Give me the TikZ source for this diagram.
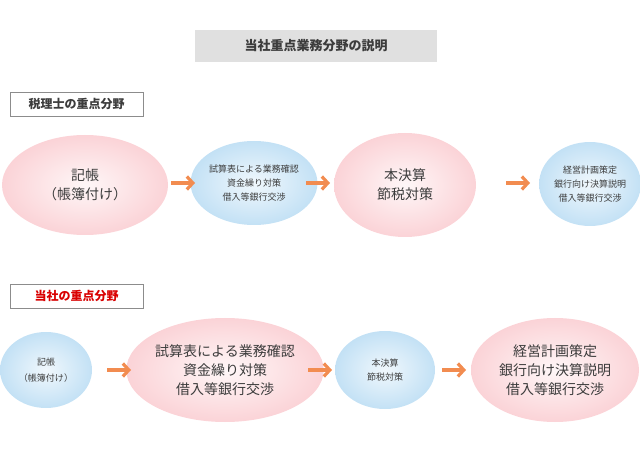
\documentclass[tikz,border=0pt]{standalone}
\usepackage{fontspec}
\setmainfont{Noto Sans CJK JP}
\usetikzlibrary{shapes.geometric,arrows.meta,calc}
\definecolor{pk}{RGB}{250,200,205}
\definecolor{bl}{RGB}{195,225,245}
\definecolor{ar}{RGB}{242,140,80}
\definecolor{tx}{RGB}{60,60,60}
\begin{document}
\begin{tikzpicture}[x=1pt,y=-1pt,
  pinkell/.style={ellipse,inner color=white!85!pk,outer color=pk!80,draw=none,text=tx,align=center,inner sep=0pt},
  blueell/.style={ellipse,inner color=white!75!bl,outer color=bl,draw=none,text=tx,align=center,inner sep=0pt},
  flow/.style={draw=ar,line width=3.2pt,-{Straight Barb[length=6pt,width=13pt]}},
  lbl/.style={draw=black!45,fill=white,minimum width=133pt,minimum height=24pt,inner sep=0pt,font=\bfseries\fontsize{12}{14}\selectfont}]
\useasboundingbox (0,0) rectangle (640,462);
\node[fill=black!12,minimum width=242pt,minimum height=32pt,font=\bfseries\fontsize{13}{15}\selectfont,text=tx] (t) at (316,46) {当社重点業務分野の説明};
\node[lbl,text=tx] (l1) at (76.5,104) {税理士の重点分野};
\node[lbl,text=red!85!black] (l2) at (76.5,296) {当社の重点分野};
% row 1
\node[pinkell,minimum width=166pt,minimum height=100pt,font=\fontsize{14}{19}\selectfont] (a1) at (85,185) {記帳\\（帳簿付け）};
\node[blueell,minimum width=116pt,minimum height=84pt,font=\fontsize{9}{14}\selectfont] (a2) at (254,183) {試算表による業務確認\\資金繰り対策\\借入等銀行交渉};
\node[pinkell,minimum width=142pt,minimum height=104pt,font=\fontsize{14}{19}\selectfont] (a3) at (405,185) {本決算\\節税対策};
\node[blueell,minimum width=100pt,minimum height=84pt,font=\fontsize{9}{14}\selectfont] (a4) at (590,184) {経営計画策定\\銀行向け決算説明\\借入等銀行交渉};
\coordinate (m1) at (183,183);
\coordinate (m2) at (318,183);
\coordinate (m3) at (518,183);
\draw[flow] ([xshift=-12pt]m1) -- ([xshift=12pt]m1);
\draw[flow] ([xshift=-12pt]m2) -- ([xshift=12pt]m2);
\draw[flow] ([xshift=-12pt]m3) -- ([xshift=12pt]m3);
% row 2
\node[blueell,minimum width=92pt,minimum height=76pt,font=\fontsize{9}{16}\selectfont] (b1) at (46,370) {記帳\\（帳簿付け）};
\node[pinkell,minimum width=164pt,minimum height=104pt,font=\fontsize{14}{19}\selectfont] (b2) at (225,370) {試算表による業務確認\\資金繰り対策\\借入等銀行交渉};
\node[blueell,minimum width=100pt,minimum height=78pt,font=\fontsize{9}{14}\selectfont] (b3) at (385,370) {本決算\\節税対策};
\node[pinkell,minimum width=168pt,minimum height=104pt,font=\fontsize{14}{19}\selectfont] (b4) at (555,370) {経営計画策定\\銀行向け決算説明\\借入等銀行交渉};
\coordinate (n1) at (119,370);
\coordinate (n2) at (320,370);
\coordinate (n3) at (454,370);
\draw[flow] ([xshift=-12pt]n1) -- ([xshift=12pt]n1);
\draw[flow] ([xshift=-12pt]n2) -- ([xshift=12pt]n2);
\draw[flow] ([xshift=-12pt]n3) -- ([xshift=12pt]n3);
\end{tikzpicture}
\end{document}
